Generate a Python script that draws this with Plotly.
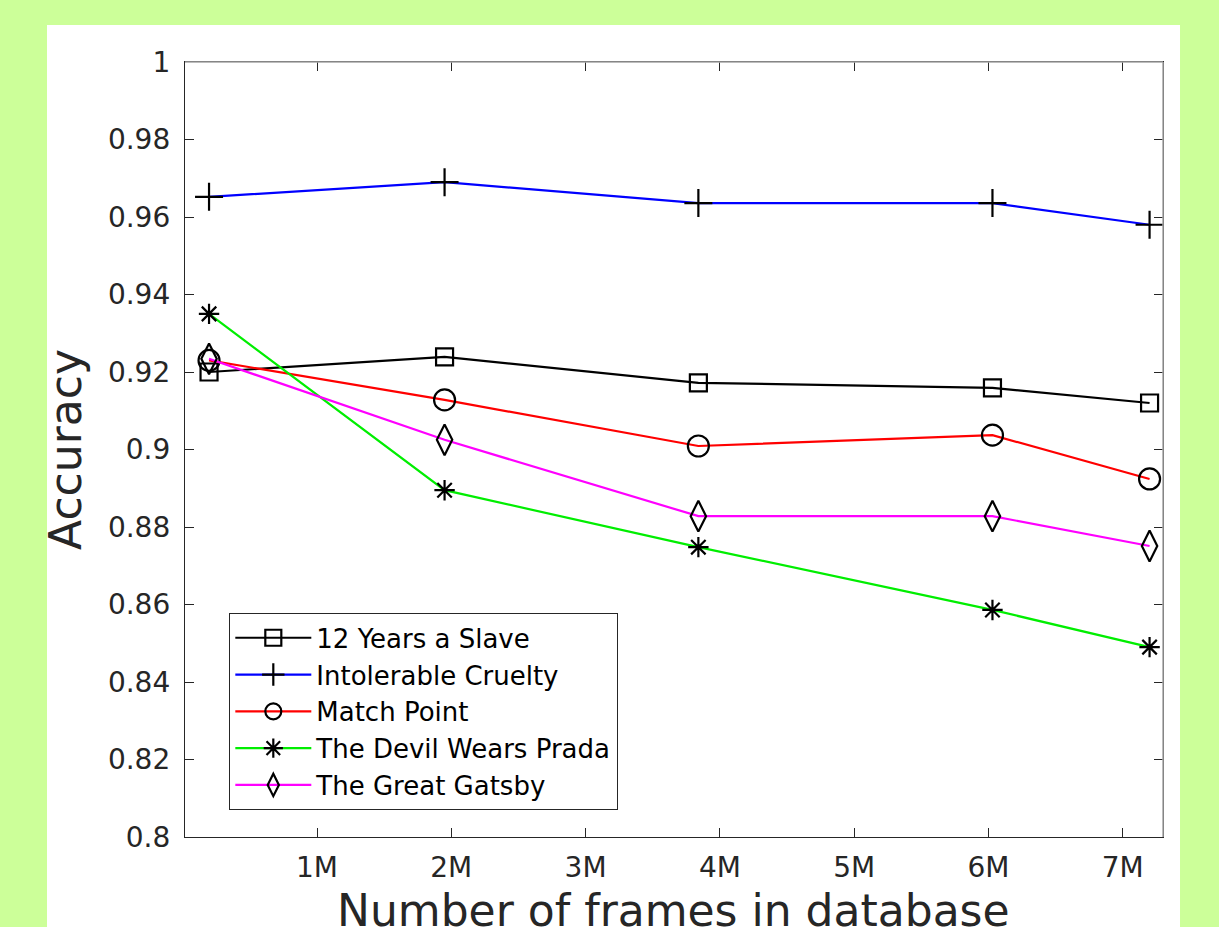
import plotly.graph_objects as go

# Database size (millions of frames) at each evaluation point
frames_m = [0.196, 1.95, 3.84, 6.03, 7.20]

movies = ["12 Years a Slave", "Intolerable Cruelty", "Match Point",
          "The Devil Wears Prada", "The Great Gatsby"]

acc_12_years = [0.9200, 0.9239, 0.9172, 0.9159, 0.9120]
acc_intolerable = [0.9652, 0.9690, 0.9636, 0.9636, 0.9580]
acc_match_point = [0.9230, 0.9128, 0.9009, 0.9037, 0.8924]
acc_devil_prada = [0.9350, 0.8895, 0.8748, 0.8586, 0.8490]
acc_gatsby = [0.9234, 0.9025, 0.8828, 0.8828, 0.8751]

x_tick_vals = [1, 2, 3, 4, 5, 6, 7]
x_tick_text = ["1M", "2M", "3M", "4M", "5M", "6M", "7M"]
y_tick_vals = [0.80, 0.82, 0.84, 0.86, 0.88, 0.90, 0.92, 0.94, 0.96, 0.98, 1.00]
y_tick_text = ["0.8", "0.82", "0.84", "0.86", "0.88", "0.9", "0.92", "0.94",
               "0.96", "0.98", "1"]

series = [
    (acc_12_years, "#000000", "square-open", 17),
    (acc_intolerable, "#0000ff", "cross-thin-open", 20),
    (acc_match_point, "#ff0000", "circle-open", 21),
    (acc_devil_prada, "#00ee00", "asterisk-open", 17),
    (acc_gatsby, "#ff00ff", "diamond-tall-open", 22),
]

FONT = "DejaVu Sans"
TXT = "#262626"

fig = go.Figure()
for name, (vals, color, symbol, size) in zip(movies, series):
    fig.add_trace(go.Scatter(
        x=frames_m, y=vals, name=name, mode="lines+markers",
        line=dict(color=color, width=2.2),
        marker=dict(symbol=symbol, size=size, color="#000000",
                    line=dict(color="#000000", width=2.2)),
    ))

# White figure panel on the green page
fig.add_shape(type="rect", xref="paper", yref="paper",
              x0=-0.1411, x1=1.0174, y0=-0.2, y1=1.0477,
              fillcolor="white", line=dict(width=0), layer="below")

# Lighter box edges along the top and right of the axes
for x0, y0, x1, y1 in [(0, 1, 1, 1), (1, 0, 1, 1)]:
    fig.add_shape(type="line", xref="paper", yref="paper",
                  x0=x0, y0=y0, x1=x1, y1=y1,
                  line=dict(color="#a6a6a6", width=1.5), layer="above")

# x-axis title, sitting low at the bottom edge of the page
fig.add_annotation(text="Number of frames in database", xref="paper", yref="paper",
                   x=0.4995, y=-0.0942, xanchor="center", yanchor="middle",
                   showarrow=False, font=dict(family=FONT, size=44, color=TXT))

axis_common = dict(
    showgrid=False, zeroline=False, showline=True, linecolor="#262626",
    linewidth=1.3, mirror="ticks", ticks="inside", ticklen=9,
    tickcolor="#262626", tickwidth=1.3, automargin=False,
    tickfont=dict(family=FONT, size=28, color=TXT),
)

fig.update_layout(
    width=1219, height=927,
    paper_bgcolor="#ccff99", plot_bgcolor="white",
    margin=dict(l=185, r=56, t=62, b=90),
    font=dict(family=FONT, color=TXT),
    xaxis=dict(range=[0.017, 7.30], tickvals=x_tick_vals, ticktext=x_tick_text,
               ticklabelstandoff=5, **axis_common),
    yaxis=dict(range=[0.8, 1.0], tickvals=y_tick_vals, ticktext=y_tick_text,
               title=dict(text="Accuracy",
                          font=dict(family=FONT, size=44, color=TXT), standoff=12),
               ticklabelstandoff=8, **axis_common),
    legend=dict(x=0.045, y=0.289, xanchor="left", yanchor="top",
                bgcolor="white", bordercolor="#262626", borderwidth=1.3,
                font=dict(family=FONT, size=26, color="#000000"),
                tracegroupgap=0, itemwidth=76),
    showlegend=True,
)

fig.write_html("out.html")
